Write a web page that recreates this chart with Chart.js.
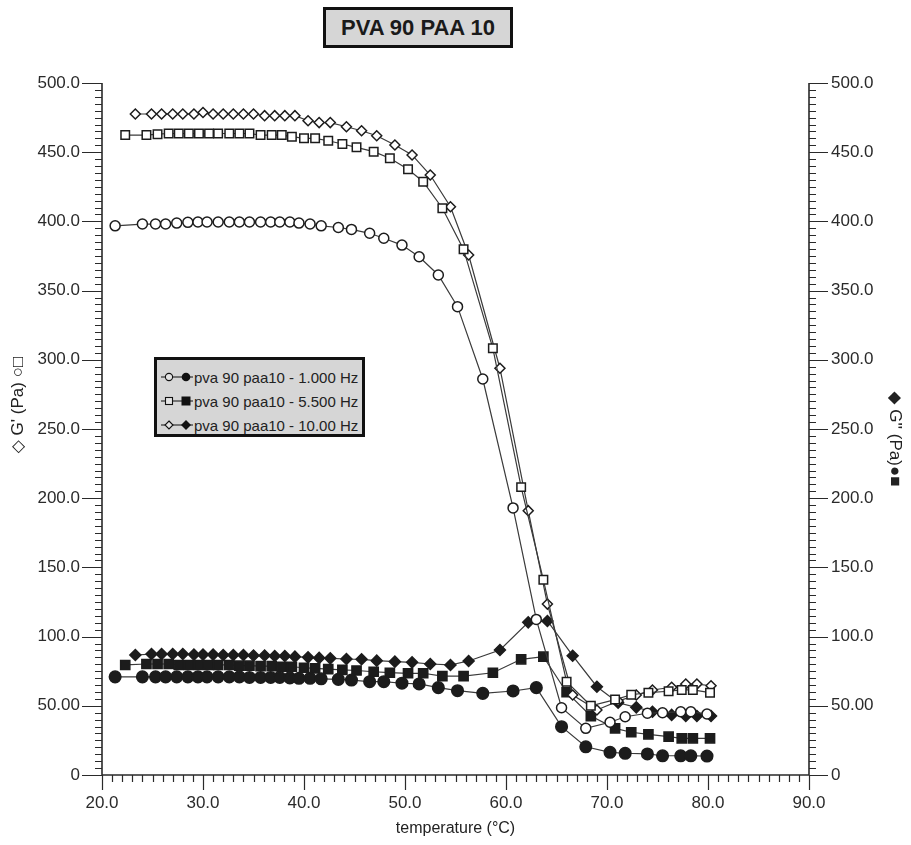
<!DOCTYPE html>
<html>
<head>
<meta charset="utf-8">
<script src="https://cdn.jsdelivr.net/npm/chart.js@4/dist/chart.umd.min.js"></script>
<style>
  html, body { margin: 0; padding: 0; background: #fff; }
  #wrap { position: relative; width: 911px; height: 845px; font-family: 'Liberation Sans', Arial, sans-serif; }
  #chart { position: absolute; left: 0; top: 0; }
  .title-box {
    position: absolute; left: 323px; top: 7px; width: 190px; height: 41px;
    box-sizing: border-box; border: 3px solid #111; background: #d6d6d6;
    font-weight: bold; font-size: 22px; line-height: 35px; text-align: center; color: #1a1a1a;
  }
  .legend-box {
    position: absolute; left: 154px; top: 357px; width: 211px; height: 80px;
    box-sizing: border-box; border: 3px solid #111; background: #d6d6d6;
    padding: 5px 0 0 2px; font-size: 15px; color: #222;
  }
  .legend-row { height: 24px; display: flex; align-items: center; white-space: nowrap; }
  .legend-row svg { flex-shrink: 0; }
</style>
</head>
<body>
<div id="wrap">
  <canvas id="chart" width="911" height="845"></canvas>
  <div class="title-box" id="title"></div>
  <div class="legend-box" id="legend"></div>
</div>
<script>
// 温度 (°C) と G' / G'' (Pa) — 周波数ごと
const tempsHz1 = [21.3, 24.0, 25.3, 26.3, 27.4, 28.5, 29.5, 30.4, 31.5, 32.6, 33.6, 34.6, 35.7, 36.7, 37.6, 38.6, 39.5, 40.6, 41.7, 43.4, 44.7, 46.5, 47.9, 49.7, 51.4, 53.3, 55.2, 57.7, 60.7, 63.0, 65.5, 67.9, 70.3, 71.8, 74.0, 75.5, 77.3, 78.3, 79.9];
const gPrimeHz1 = [396.8, 398.1, 398.1, 398.1, 398.8, 399.3, 399.6, 399.6, 399.6, 399.6, 399.6, 399.6, 399.6, 399.6, 399.6, 399.6, 398.8, 398.1, 396.8, 395.6, 394.2, 391.4, 387.8, 382.9, 374.5, 361.3, 338.4, 286.1, 193.0, 112.4, 48.6, 33.7, 38.1, 42.1, 44.6, 45.0, 45.7, 45.7, 44.1];
const gDoubleHz1 = [70.9, 70.9, 70.9, 70.9, 70.9, 70.9, 70.9, 70.9, 70.9, 70.9, 70.9, 70.5, 70.5, 70.5, 70.5, 70.2, 69.9, 69.9, 69.5, 69.1, 68.6, 67.4, 67.4, 66.3, 65.8, 63.1, 60.9, 59.0, 60.7, 63.1, 34.9, 20.4, 16.4, 15.7, 15.2, 13.9, 13.9, 13.9, 13.7];

const tempsHz5 = [22.3, 24.4, 25.5, 26.6, 27.6, 28.6, 29.6, 30.6, 31.5, 32.6, 33.6, 34.6, 35.7, 36.8, 37.8, 38.8, 40.0, 41.1, 42.4, 43.8, 45.2, 46.9, 48.5, 50.3, 51.8, 53.7, 55.8, 58.7, 61.5, 63.7, 66.0, 68.4, 70.8, 72.4, 74.1, 76.1, 77.4, 78.5, 80.2];
const gPrimeHz5 = [462.4, 462.4, 463.0, 463.5, 463.5, 463.5, 463.5, 463.5, 463.5, 463.5, 463.5, 463.5, 462.4, 462.4, 462.4, 461.2, 460.0, 460.0, 458.3, 455.9, 453.5, 450.4, 445.6, 437.6, 428.7, 409.5, 379.8, 308.3, 208.0, 141.0, 67.4, 50.0, 54.5, 58.0, 59.5, 60.5, 61.5, 61.5, 59.5];
const gDoubleHz5 = [79.5, 80.2, 80.2, 80.2, 79.5, 79.5, 79.5, 79.5, 79.5, 79.5, 79.0, 79.0, 78.6, 78.6, 78.2, 78.2, 77.5, 77.0, 76.5, 75.9, 75.5, 74.6, 73.9, 73.5, 73.5, 71.5, 71.5, 73.9, 83.6, 85.5, 59.8, 42.6, 33.7, 30.9, 29.4, 27.7, 26.5, 26.5, 26.5];

const tempsHz10 = [23.3, 24.9, 25.9, 27.0, 28.0, 29.1, 30.0, 31.0, 32.0, 33.0, 34.0, 35.0, 36.1, 37.1, 38.1, 39.1, 40.4, 41.5, 42.6, 44.2, 45.7, 47.2, 49.0, 50.7, 52.5, 54.5, 56.3, 59.4, 62.2, 64.1, 66.6, 69.0, 71.1, 72.9, 74.5, 76.4, 77.8, 78.9, 80.3];
const gPrimeHz10 = [477.6, 477.6, 477.6, 477.6, 477.6, 477.6, 478.7, 477.6, 477.6, 477.6, 477.6, 477.6, 476.4, 476.4, 476.4, 476.4, 472.7, 471.4, 471.4, 468.4, 465.5, 461.9, 455.2, 448.0, 433.5, 410.6, 375.7, 293.9, 191.0, 123.5, 57.8, 47.0, 53.4, 57.8, 61.4, 63.4, 65.7, 65.7, 64.5];
const gDoubleHz10 = [86.7, 87.4, 87.4, 87.4, 87.4, 87.0, 87.0, 87.0, 86.7, 86.7, 86.7, 86.3, 86.3, 86.0, 86.0, 85.5, 85.0, 84.6, 84.3, 83.8, 83.6, 82.6, 81.9, 81.4, 80.2, 79.5, 82.4, 90.3, 110.3, 111.3, 86.2, 63.8, 52.2, 48.9, 45.7, 43.4, 42.6, 42.6, 42.6];

const seriesLabels = ['pva 90 paa10 - 1.000 Hz', 'pva 90 paa10 - 5.500 Hz', 'pva 90 paa10 - 10.00 Hz'];
const xTickValues = [20, 30, 40, 50, 60, 70, 80, 90];
const yTickValues = [0, 50, 100, 150, 200, 250, 300, 350, 400, 450, 500];
const chartTitle = 'PVA 90 PAA 10';
const xTitle = 'temperature (°C)';
const yLeftTitle = "\u25C7 G' (Pa) \u25CB\u25A1";
const yRightTitle = "\u25C6 G'' (Pa)\u25CF\u25A0";

const FONT = "'Liberation Sans', Arial, 'DejaVu Sans', sans-serif";
const INK = '#1c1c1c';

function toPoints(xs, ys) {
    return xs.map((t, i) => ({ x: t, y: ys[i] }));
}

function makeSeries(xs, ys, axis, style, radius, filled) {
    return {
        data: toPoints(xs, ys),
        yAxisID: axis,
        showLine: true,
        borderColor: '#3a3a3a',
        borderWidth: 1.2,
        pointStyle: style,
        pointRadius: radius,
        pointBorderWidth: 1.5,
        pointBorderColor: INK,
        pointBackgroundColor: filled ? INK : '#fff',
        tension: 0
    };
}

// タイトルと凡例 (HTML)
document.getElementById('title').textContent = chartTitle;

function legendSymbol(kind) {
    const open = kind === 'circle' ? '<circle cx="10" cy="7" r="3.6" fill="#e4e4e4" stroke="#111" stroke-width="1.1"/>'
        : kind === 'rect' ? '<rect x="6.5" y="3.5" width="7" height="7" fill="#e4e4e4" stroke="#111" stroke-width="1.1"/>'
        : '<polygon points="10,3 14,7 10,11 6,7" fill="#e4e4e4" stroke="#111" stroke-width="1.1"/>';
    const full = kind === 'circle' ? '<circle cx="27" cy="7" r="4.3" fill="#111"/>'
        : kind === 'rect' ? '<rect x="22.5" y="2.5" width="9" height="9" fill="#111"/>'
        : '<polygon points="27,2 32,7 27,12 22,7" fill="#111"/>';
    return '<svg width="35" height="14"><line x1="2" y1="7" x2="34" y2="7" stroke="#222" stroke-width="1.1"/>' + open + full + '</svg>';
}

const legendKinds = ['circle', 'rect', 'rectRot'];
document.getElementById('legend').innerHTML = seriesLabels.map((label, i) =>
    '<div class="legend-row">' + legendSymbol(legendKinds[i]) + '<span>' + label + '</span></div>'
).join('');

// 軸・目盛り (主目盛り + 補助目盛り)
const axisFrame = {
    id: 'axisFrame',
    afterDraw(chart) {
        const { ctx, chartArea: a, scales } = chart;
        const x = scales.x, y = scales.y;
        ctx.save();
        ctx.strokeStyle = '#2a2a2a';
        ctx.lineWidth = 1.6;
        ctx.beginPath();
        ctx.moveTo(a.left, a.top); ctx.lineTo(a.left, a.bottom); ctx.lineTo(a.right, a.bottom); ctx.lineTo(a.right, a.top);
        ctx.stroke();

        ctx.lineWidth = 1.2;
        ctx.beginPath();
        for (let v = 0; v <= 500; v += 5) {
            const py = Math.round(y.getPixelForValue(v)) + 0.5;
            const major = v % 50 === 0;
            ctx.moveTo(a.left - (major ? 20 : 7), py); ctx.lineTo(a.left, py);
            ctx.moveTo(a.right, py); ctx.lineTo(a.right + (major ? 19 : 7), py);
        }
        for (let t = 20; t <= 90; t += 1) {
            const px = Math.round(x.getPixelForValue(t)) + 0.5;
            const major = t % 10 === 0;
            ctx.moveTo(px, a.bottom); ctx.lineTo(px, a.bottom + (major ? 15 : 7));
        }
        ctx.stroke();

        // 縦軸タイトル
        ctx.fillStyle = '#222';
        ctx.font = '17px ' + FONT;
        ctx.textAlign = 'center';
        ctx.textBaseline = 'middle';
        ctx.save();
        ctx.translate(18, (a.top + a.bottom) / 2 - 24);
        ctx.rotate(-Math.PI / 2);
        ctx.fillText(yLeftTitle, 0, 0);
        ctx.restore();
        ctx.save();
        ctx.translate(895, (a.top + a.bottom) / 2 + 10);
        ctx.rotate(Math.PI / 2);
        ctx.fillText(yRightTitle, 0, 0);
        ctx.restore();
        ctx.restore();
    }
};

function yLabel(v) {
    if (v === 0) return '0';
    return v < 100 ? v.toFixed(2) : v.toFixed(1);
}

const tickFont = { family: FONT, size: 17 };

function yScale(position) {
    return {
        type: 'linear',
        position: position,
        min: 0,
        max: 500,
        afterBuildTicks: s => { s.ticks = yTickValues.map(v => ({ value: v })); },
        afterFit: s => { s.width = 102; },
        ticks: { callback: yLabel, padding: 22, font: tickFont, color: '#2a2a2a', autoSkip: false },
        grid: { display: false, drawTicks: false },
        border: { display: false }
    };
}

new Chart(document.getElementById('chart'), {
    type: 'scatter',
    data: {
        datasets: [
            makeSeries(tempsHz1, gPrimeHz1, 'y', 'circle', 5, false),
            makeSeries(tempsHz5, gPrimeHz5, 'y', 'rect', 6, false),
            makeSeries(tempsHz10, gPrimeHz10, 'y', 'rectRot', 5, false),
            makeSeries(tempsHz1, gDoubleHz1, 'y2', 'circle', 5.8, true),
            makeSeries(tempsHz5, gDoubleHz5, 'y2', 'rect', 6.5, true),
            makeSeries(tempsHz10, gDoubleHz10, 'y2', 'rectRot', 5.5, true)
        ]
    },
    options: {
        responsive: false,
        animation: false,
        layout: { padding: { top: 83, left: 0, right: 0, bottom: 0 } },
        plugins: { legend: { display: false }, tooltip: { enabled: false } },
        scales: {
            x: {
                type: 'linear',
                position: 'bottom',
                min: 20,
                max: 90,
                afterBuildTicks: s => { s.ticks = xTickValues.map(v => ({ value: v })); },
                afterFit: s => { s.height = 70; },
                ticks: { callback: v => v.toFixed(1), padding: 18, font: tickFont, color: '#2a2a2a', maxRotation: 0, autoSkip: false },
                grid: { display: false, drawTicks: false },
                border: { display: false },
                title: { display: true, text: xTitle, color: '#222', font: { family: FONT, size: 16 }, padding: { top: 0, bottom: 7 } }
            },
            y: yScale('left'),
            y2: yScale('right')
        }
    },
    plugins: [axisFrame]
});
</script>
</body>
</html>
